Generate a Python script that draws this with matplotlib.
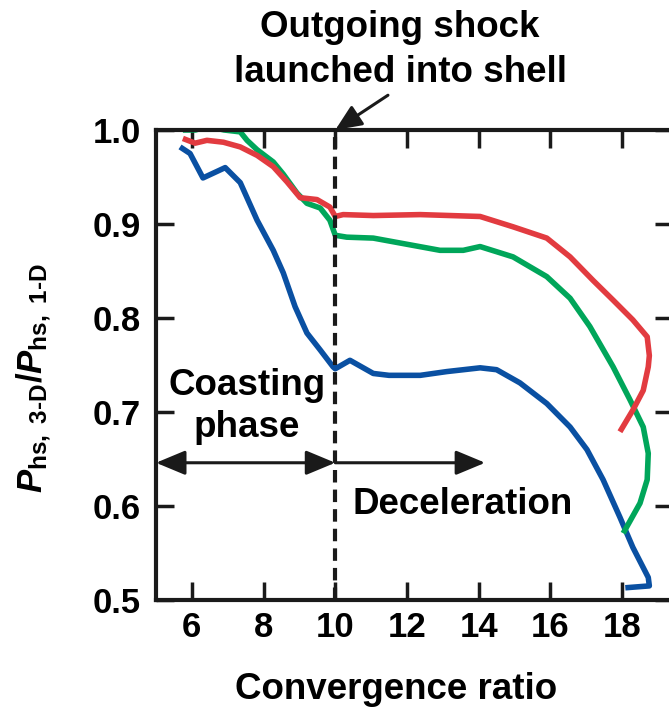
import matplotlib
matplotlib.use('Agg')
import matplotlib.pyplot as plt

plt.rcParams['font.family'] = ['Liberation Sans', 'DejaVu Sans']
plt.rcParams['font.weight'] = 'bold'
plt.rcParams['mathtext.fontset'] = 'custom'
plt.rcParams['mathtext.rm'] = 'Liberation Sans:bold'
plt.rcParams['mathtext.it'] = 'Liberation Sans:italic:bold'
plt.rcParams['mathtext.bf'] = 'Liberation Sans:bold'

# pressure ratio vs convergence ratio, three runs
blauwX = [5.67, 5.95, 6.31, 6.93, 7.35, 7.82, 8.27, 8.55, 8.88, 9.21, 9.58, 9.94, 10.0,
          10.41, 11.06, 11.5, 12.37, 13.11, 14.04, 14.5, 15.15, 15.9, 16.55, 17.02,
          17.47, 17.94, 18.3, 18.73, 18.76, 18.09]
blauwY = [0.982, 0.975, 0.949, 0.960, 0.944, 0.904, 0.872, 0.848, 0.812, 0.784, 0.766, 0.748, 0.746,
          0.755, 0.741, 0.739, 0.739, 0.743, 0.747, 0.745, 0.731, 0.709, 0.684, 0.660,
          0.628, 0.588, 0.556, 0.524, 0.515, 0.513]

groenX = [5.75, 6.1, 6.45, 6.9, 7.35, 7.54, 7.82, 8.27, 8.55, 8.93, 9.21, 9.58, 9.85, 10.0,
          10.32, 11.06, 12.92, 13.57, 14.04, 14.96, 15.9, 16.55, 17.1, 17.75, 18.22,
          18.59, 18.73, 18.7, 18.5, 18.03]
groenY = [1.0, 1.0, 1.004, 1.0, 0.998, 0.989, 0.979, 0.966, 0.953, 0.933, 0.922, 0.917, 0.904, 0.888,
          0.886, 0.885, 0.872, 0.872, 0.876, 0.865, 0.844, 0.821, 0.791, 0.748, 0.713,
          0.684, 0.656, 0.628, 0.603, 0.571]

roodX = [5.75, 6.09, 6.42, 6.88, 7.35, 7.82, 8.27, 8.65, 9.02, 9.49, 9.85, 10.0, 10.22,
         11.06, 12.37, 14.04, 14.96, 15.9, 16.55, 17.19, 17.75, 18.3, 18.7, 18.76,
         18.73, 18.59, 18.3, 17.94]
roodY = [0.991, 0.986, 0.989, 0.987, 0.982, 0.973, 0.961, 0.945, 0.928, 0.926, 0.918, 0.908, 0.910,
         0.909, 0.910, 0.908, 0.897, 0.885, 0.865, 0.840, 0.819, 0.798, 0.780, 0.760,
         0.748, 0.723, 0.702, 0.679]

xTicks = [6, 8, 10, 12, 14, 16, 18]
yTicks = [0.5, 0.6, 0.7, 0.8, 0.9, 1.0]

fig = plt.figure(figsize=(6.69, 7.09), dpi=100)
ax = fig.add_axes([156/669, 109/709, 517/669, 470/709])

lijnStijl = dict(lw=4, solid_joinstyle='round', solid_capstyle='butt')
ax.plot(blauwX, blauwY, color='#0a50a2', **lijnStijl)
ax.plot(groenX, groenY, color='#00a65a', **lijnStijl)
ax.plot(roodX, roodY, color='#e23b40', **lijnStijl)

ax.axvline(10, color='#1a1a1a', lw=3, dashes=(3, 1.7), zorder=5)

ax.set_xlim(5, 19.42)
ax.set_ylim(0.5, 1.0)
ax.set_xticks(xTicks)
ax.set_yticks(yTicks)
ax.set_yticklabels([f'{v:.1f}' for v in yTicks])
ax.tick_params(direction='in', length=13, width=2.5, labelsize=25, color='#1a1a1a',
               top=True, right=True)
ax.tick_params(axis='x', pad=8)
ax.tick_params(axis='y', pad=11)
for s in ax.spines.values():
  s.set_linewidth(3)
  s.set_color('#1a1a1a')

pijl = dict(color='#1a1a1a', lw=2.2, shrinkA=0, shrinkB=0, mutation_scale=10)

# schok pijl
ax.annotate('', xy=(10, 1.0), xytext=(11.47, 1.037), annotation_clip=False,
            arrowprops=dict(arrowstyle='-|>,head_length=1.6,head_width=0.7', **pijl))
ax.text(11.81, 1.099, 'Outgoing shock', ha='center', va='baseline', fontsize=26.5, clip_on=False)
ax.text(11.81, 1.051, 'launched into shell', ha='center', va='baseline', fontsize=26.5, clip_on=False)

# fases
ax.annotate('', xy=(5.0, 0.646), xytext=(10, 0.646),
            arrowprops=dict(arrowstyle='<|-|>,head_length=1.8,head_width=0.75', **pijl))
ax.annotate('', xy=(14.18, 0.646), xytext=(10, 0.646),
            arrowprops=dict(arrowstyle='-|>,head_length=1.8,head_width=0.75', **pijl))
ax.text(7.53, 0.718, 'Coasting', ha='center', va='baseline', fontsize=26.5)
ax.text(7.53, 0.673, 'phase', ha='center', va='baseline', fontsize=26.5)
ax.text(10.47, 0.592, 'Deceleration', ha='left', va='baseline', fontsize=26.5)

fig.text(396/669, 10/709, 'Convergence ratio', ha='center', va='baseline', fontsize=26.5)
fig.text(34/669, 1 - 378/709,
         r'$\mathit{P}_{\mathrm{hs,\ 3\text{-}D}}/\mathit{P}_{\mathrm{hs,\ 1\text{-}D}}$',
         rotation=90, ha='center', va='center', fontsize=25)

fig.savefig('out.png', dpi=100)
plt.close(fig)
